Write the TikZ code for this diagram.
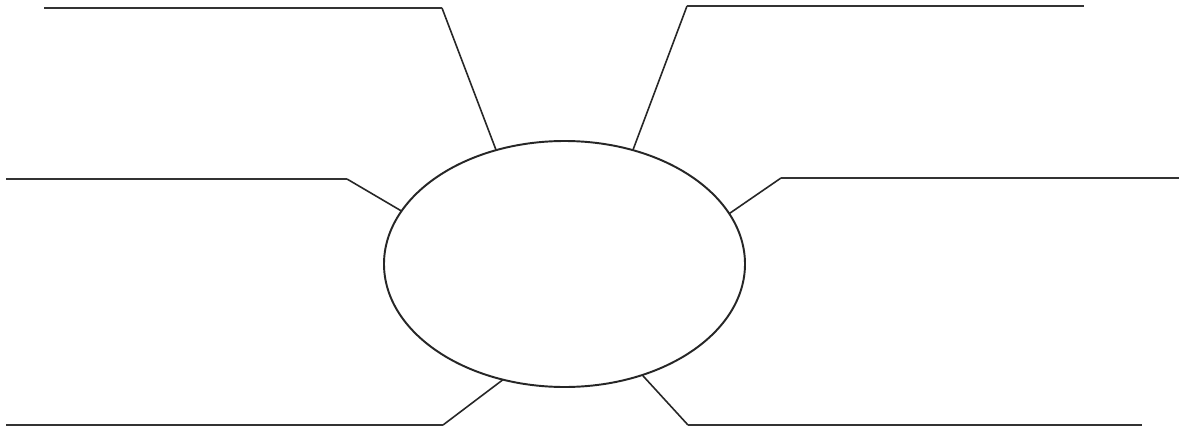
\documentclass[tikz,border=0pt]{standalone}
\usetikzlibrary{shapes.geometric}
\tikzset{
  topicoval/.style={draw=black!85, line width=1.1pt, ellipse, minimum width=7.22cm,
    minimum height=4.92cm, inner sep=0pt, outer sep=0pt},
  spoke/.style={draw=black!85, line width=0.9pt},
  writeline/.style={draw=black!80, line width=1.6pt}
}
\begin{document}
\begin{tikzpicture}
  \useasboundingbox[fill=white] (0,0) rectangle (23.66,8.62);
  % Central oval
  \node[topicoval] (topic) at (11.29,3.34) {};
  % Corners and free ends of the writing lines
  \coordinate (tlbend) at (8.84,8.46);   \coordinate (tlend) at (0.88,8.46);
  \coordinate (trbend) at (13.74,8.50);  \coordinate (trend) at (21.68,8.50);
  \coordinate (mlbend) at (6.94,5.04);   \coordinate (mlend) at (0.12,5.04);
  \coordinate (mrbend) at (15.62,5.06);  \coordinate (mrend) at (23.58,5.06);
  \coordinate (blbend) at (8.86,0.12);   \coordinate (blend) at (0.12,0.12);
  \coordinate (brbend) at (13.76,0.12);  \coordinate (brend) at (22.84,0.12);
  % Spokes from the oval
  \draw[spoke] (topic.121.3) -- (tlbend);
  \draw[spoke] (topic.59.1) -- (trbend);
  \draw[spoke] (topic.162.9) -- (mlbend);
  \draw[spoke] (topic.17.4) -- (mrbend);
  \draw[spoke] (topic.-118.7) -- (blbend);
  \draw[spoke] (topic.-55.8) -- (brbend);
  % Writing lines
  \draw[writeline] (tlbend) -- (tlend);
  \draw[writeline] (trbend) -- (trend);
  \draw[writeline] (mlbend) -- (mlend);
  \draw[writeline] (mrbend) -- (mrend);
  \draw[writeline] (blbend) -- (blend);
  \draw[writeline] (brbend) -- (brend);
\end{tikzpicture}
\end{document}
